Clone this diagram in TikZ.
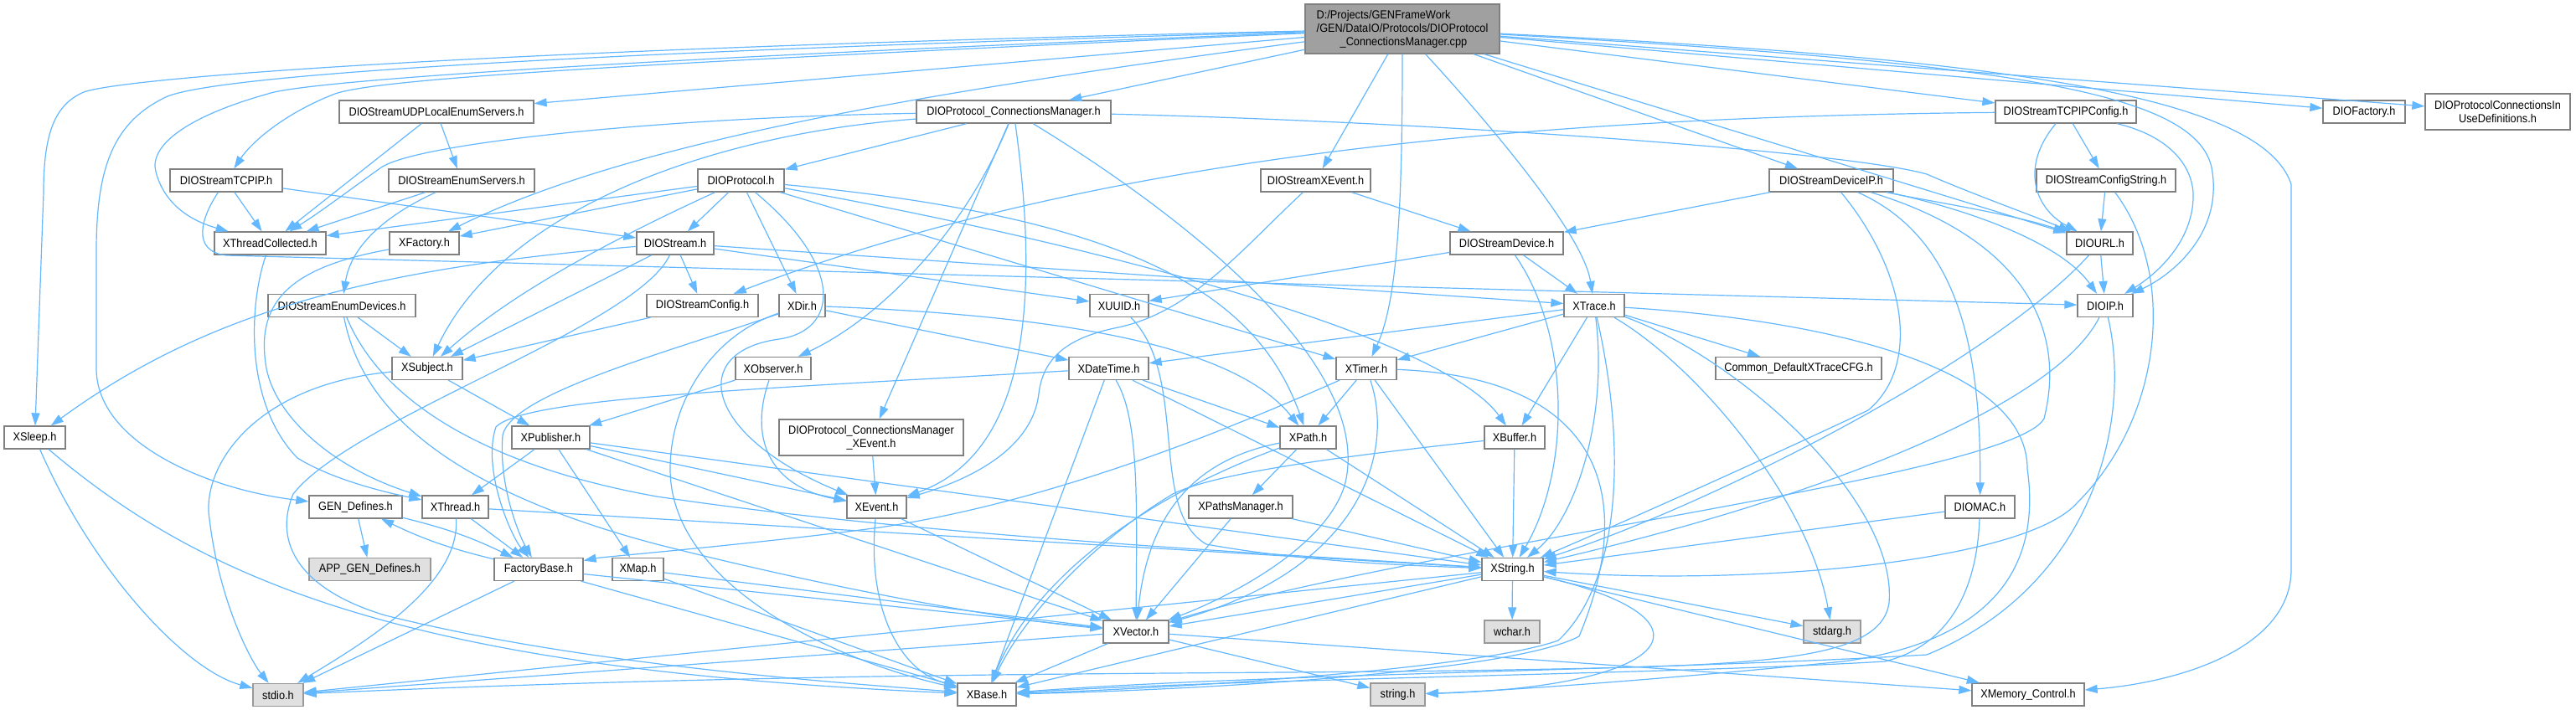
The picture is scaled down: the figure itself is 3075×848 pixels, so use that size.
\documentclass[tikz,border=0pt]{standalone}
\usepackage{fontspec}
\setmainfont{Liberation Sans}[FakeStretch=0.91]
\usetikzlibrary{arrows.meta}
\definecolor{edgec}{HTML}{63B8FF}
\definecolor{boxc}{HTML}{808080}
\definecolor{grayfill}{HTML}{E0E0E0}
\definecolor{graybord}{HTML}{999999}
\definecolor{rootfill}{HTML}{A0A0A0}
\begin{document}
\begin{tikzpicture}[x=1pt,y=-1pt,
  font=\fontsize{14}{16}\selectfont,
  nbox/.style={draw=boxc, fill=white, line width=1.3pt, inner sep=0pt, minimum height=27pt, align=center, text=black},
  nleaf/.style={nbox, draw=graybord, fill=grayfill},
  nroot/.style={nbox, fill=rootfill, align=left},
  dep/.style={draw=edgec, line width=1.2pt, -{Triangle[length=15pt,width=10pt]}}]
\useasboundingbox (0,0) rectangle (3075,848);
\fill[white] (0,0) rectangle (3075,848);

% nodes
\node[nroot, minimum width=232pt, minimum height=59pt] (root) at (1674,34.5) {D:/Projects/GENFrameWork\\/GEN/DataIO/Protocols/DIOProtocol\\\hspace*{28pt}\_ConnectionsManager.cpp};
\node[nbox, minimum width=232pt] (UDPLES) at (521,133.5) {DIOStreamUDPLocalEnumServers.h};
\node[nbox, minimum width=134pt] (TCPIP) at (270,215.5) {DIOStreamTCPIP.h};
\node[nbox, minimum width=174pt] (ES) at (551,215.5) {DIOStreamEnumServers.h};
\node[nbox, minimum width=133pt] (XTC) at (322.5,290.5) {XThreadCollected.h};
\node[nbox, minimum width=83pt] (XF) at (506.5,290.5) {XFactory.h};
\node[nbox, minimum width=176pt] (ED) at (408,365) {DIOStreamEnumDevices.h};
\node[nbox, minimum width=92pt] (DS) at (806,290.5) {DIOStream.h};
\node[nbox, minimum width=84pt] (XSub) at (510,440) {XSubject.h};
\node[nbox, minimum width=232pt] (PCM) at (1210,133.5) {DIOProtocol\_ConnectionsManager.h};
\node[nbox, minimum width=103pt] (DP) at (884.5,215.5) {DIOProtocol.h};
\node[nbox, minimum width=133pt] (DSC) at (838.5,365) {DIOStreamConfig.h};
\node[nbox, minimum width=55pt] (XDir) at (957.5,365) {XDir.h};
\node[nbox, minimum width=70pt] (XUUID) at (1336,365) {XUUID.h};
\node[nbox, minimum width=131pt] (DSXE) at (1570.5,215.5) {DIOStreamXEvent.h};
\node[nbox, minimum width=90pt] (XObs) at (923,440) {XObserver.h};
\node[nbox, minimum width=148pt] (DSDIP) at (2186,215.5) {DIOStreamDeviceIP.h};
\node[nbox, minimum width=135pt] (DSD) at (1798.5,290.5) {DIOStreamDevice.h};
\node[nbox, minimum width=72pt] (XTrace) at (1903,365) {XTrace.h};
\node[nbox, minimum width=198pt] (Common) at (2147,440) {Common\_DefaultXTraceCFG.h};
\node[nbox, minimum width=168pt] (TCPCFG) at (2466,133.5) {DIOStreamTCPIPConfig.h};
\node[nbox, minimum width=166pt] (DSCS) at (2514,215.5) {DIOStreamConfigString.h};
\node[nbox, minimum width=79pt] (DIOURL) at (2506.5,290.5) {DIOURL.h};
\node[nbox, minimum width=66pt] (DIOIP) at (2513,365) {DIOIP.h};
\node[nbox, minimum width=98pt] (DIOFactory) at (2822,133.5) {DIOFactory.h};
\node[nbox, minimum width=173pt, minimum height=43pt] (InUse) at (2981.5,133.5) {DIOProtocolConnectionsIn\\UseDefinitions.h};
\node[nbox, minimum width=73pt] (XSleep) at (41.5,522.5) {XSleep.h};
\node[nbox, minimum width=111pt] (GEN) at (424.5,605.5) {GEN\_Defines.h};
\node[nbox, minimum width=79pt] (XThread) at (543.5,605.5) {XThread.h};
\node[nleaf, minimum width=145pt] (APP) at (441.5,680) {APP\_GEN\_Defines.h};
\node[nbox, minimum width=106pt] (FB) at (643,680) {FactoryBase.h};
\node[nbox, minimum width=61pt] (XMap) at (761.5,680) {XMap.h};
\node[nleaf, minimum width=60pt] (stdio) at (332,830) {stdio.h};
\node[nbox, minimum width=93pt] (XPub) at (657.5,522.5) {XPublisher.h};
\node[nbox, minimum width=95pt] (XDT) at (1323.5,440) {XDateTime.h};
\node[nbox, minimum width=220pt, minimum height=43pt] (PCMXE) at (1040,522.5) {DIOProtocol\_ConnectionsManager\\\_XEvent.h};
\node[nbox, minimum width=71pt] (XEvent) at (1046.5,605.5) {XEvent.h};
\node[nbox, minimum width=124pt] (XPM) at (1481,605.5) {XPathsManager.h};
\node[nbox, minimum width=78pt] (XVector) at (1356,754.5) {XVector.h};
\node[nbox, minimum width=70pt] (XBase) at (1178,829.5) {XBase.h};
\node[nbox, minimum width=72pt] (XTimer) at (1631,440) {XTimer.h};
\node[nbox, minimum width=67pt] (XPath) at (1561.5,522.5) {XPath.h};
\node[nbox, minimum width=72pt] (XBuffer) at (1808,522.5) {XBuffer.h};
\node[nbox, minimum width=73pt] (XString) at (1805.5,680) {XString.h};
\node[nleaf, minimum width=66pt] (wchar) at (1805,754.5) {wchar.h};
\node[nleaf, minimum width=68pt] (stdarg) at (2187,754.5) {stdarg.h};
\node[nleaf, minimum width=65pt] (string) at (1668.5,829.5) {string.h};
\node[nbox, minimum width=83pt] (DIOMAC) at (2363.5,605.5) {DIOMAC.h};
\node[nbox, minimum width=134pt] (XMem) at (2421,829.5) {XMemory\_Control.h};

% root
\draw[dep] (root) .. controls (600,58) and (150,92) .. (100,110) .. controls (65,125) and (52,160) .. (52,230) -- (XSleep);
\draw[dep] (root) .. controls (600,65) and (260,92) .. (200,115) .. controls (135,145) and (115,200) .. (115,300) -- (115,440) .. controls (115,530) and (250,585) .. (GEN);
\draw[dep] (root) .. controls (700,72) and (360,98) .. (320,112) .. controls (220,140) and (178,175) .. (186,205) .. controls (195,240) and (222,262) .. (XTC);
\draw[dep] (root) .. controls (700,78) and (450,95) .. (400,112) .. controls (340,135) and (300,170) .. (TCPIP);
\draw[dep] (root) -- (UDPLES);
\draw[dep] (root) .. controls (1100,110) and (750,170) .. (XF);
\draw[dep] (root) -- (PCM);
\draw[dep] (root) -- (DSXE);
\draw[dep] (root) .. controls (1674,250) and (1668,360) .. (XTimer);
\draw[dep] (root) .. controls (1780,150) and (1890,280) .. (XTrace);
\draw[dep] (root) -- (DSDIP);
\draw[dep] (root) -- (TCPCFG);
\draw[dep] (root) -- (DIOURL);
\draw[dep] (root) .. controls (2400,75) and (2620,110) .. (2640,200) .. controls (2655,280) and (2590,330) .. (DIOIP);
\draw[dep] (root) -- (DIOFactory);
\draw[dep] (root) -- (InUse);
\draw[dep] (root) .. controls (2400,70) and (2700,115) .. (2735,220) -- (2735,680) .. controls (2735,775) and (2600,815) .. (XMem);

% upper left
\draw[dep] (UDPLES) -- (XTC);
\draw[dep] (UDPLES) -- (ES);
\draw[dep] (TCPIP) -- (XTC);
\draw[dep] (TCPIP) -- (DS);
\draw[dep] (TCPIP) .. controls (240,260) and (228,300) .. (270,305) -- (DIOIP);
\draw[dep] (ES) -- (XTC);
\draw[dep] (ES) .. controls (450,262) and (418,300) .. (ED);
\draw[dep] (ED) -- (XSub);
\draw[dep] (ED) .. controls (430,480) and (520,580) .. (784,650) .. controls (1000,705) and (1200,740) .. (XVector);
\draw[dep] (ED) .. controls (460,490) and (600,560) .. (784,593) .. controls (1100,640) and (1500,660) .. (XString);
\draw[dep] (XTC) .. controls (298,360) and (290,480) .. (355,547) .. controls (400,575) and (470,590) .. (XThread);
\draw[dep] (XF) .. controls (340,320) and (305,365) .. (318,440) .. controls (330,500) and (400,560) .. (XThread);

% DIOStream
\draw[dep] (DS) .. controls (450,320) and (250,370) .. (XSleep);
\draw[dep] (DS) -- (DSC);
\draw[dep] (DS) -- (XUUID);
\draw[dep] (DS) -- (XTrace);
\draw[dep] (DS) -- (XSub);
\draw[dep] (DS) .. controls (760,390) and (420,500) .. (350,590) .. controls (325,650) and (360,705) .. (460,735) .. controls (700,795) and (1000,815) .. (XBase);
\draw[dep] (DSC) -- (XSub);

% DIOProtocol
\draw[dep] (DP) -- (DS);
\draw[dep] (DP) -- (XDir);
\draw[dep] (DP) -- (XTC);
\draw[dep] (DP) -- (XF);
\draw[dep] (DP) .. controls (700,300) and (600,360) .. (XSub);
\draw[dep] (DP) .. controls (1010,320) and (1000,395) .. (930,405) .. controls (820,420) and (840,520) .. (XEvent);
\draw[dep] (DP) .. controls (1300,290) and (1720,400) .. (XBuffer);
\draw[dep] (DP) -- (XTimer);
\draw[dep] (DP) .. controls (1350,260) and (1500,350) .. (XPath);

% PCM
\draw[dep] (PCM) -- (DP);
\draw[dep] (PCM) .. controls (800,140) and (500,170) .. (455,200) .. controls (420,225) and (380,255) .. (XTC);
\draw[dep] (PCM) .. controls (850,160) and (600,250) .. (XSub);
\draw[dep] (PCM) .. controls (1150,280) and (1050,380) .. (XObs);
\draw[dep] (PCM) -- (PCMXE);
\draw[dep] (PCM) .. controls (1240,350) and (1230,540) .. (XEvent);
\draw[dep] (PCM) .. controls (1450,280) and (1640,450) .. (1605,580) .. controls (1580,660) and (1450,720) .. (XVector);
\draw[dep] (PCM) .. controls (1700,145) and (2200,180) .. (2300,208) .. controls (2355,232) and (2420,255) .. (DIOURL);

% middle left
\draw[dep] (PCMXE) -- (XEvent);
\draw[dep] (XObs) .. controls (895,520) and (915,580) .. (XEvent);
\draw[dep] (XObs) -- (XPub);
\draw[dep] (XSub) -- (XPub);
\draw[dep] (XSub) .. controls (300,460) and (240,560) .. (250,620) .. controls (262,720) and (300,790) .. (stdio);
\draw[dep] (XPub) -- (XThread);
\draw[dep] (XPub) -- (XMap);
\draw[dep] (XPub) -- (XEvent);
\draw[dep] (XPub) -- (XString);
\draw[dep] (XPub) -- (XVector);
\draw[dep] (XThread) -- (FB);
\draw[dep] (XThread) .. controls (550,700) and (430,770) .. (stdio);
\draw[dep] (XThread) -- (XString);
\draw[dep] (GEN) -- (APP);
\draw[dep] (GEN) to[bend left=6] (FB);
\draw[dep] (FB) to[bend left=6] (GEN);
\draw[dep] (FB) -- (stdio);
\draw[dep] (FB) -- (XVector);
\draw[dep] (FB) -- (XBase);
\draw[dep] (XMap) -- (XVector);
\draw[dep] (XMap) -- (XBase);
\draw[dep] (XEvent) -- (XVector);
\draw[dep] (XEvent) .. controls (1035,720) and (1070,800) .. (XBase);
\draw[dep] (XSleep) .. controls (110,680) and (220,800) .. (stdio);
\draw[dep] (XSleep) .. controls (250,700) and (500,800) .. (XBase);

% XDir, XDateTime
\draw[dep] (XDir) -- (XDT);
\draw[dep] (XDir) .. controls (1300,378) and (1480,420) .. (XPath);
\draw[dep] (XDir) .. controls (800,420) and (610,470) .. (600,520) .. controls (595,580) and (620,640) .. (FB);
\draw[dep] (XDir) .. controls (850,400) and (800,480) .. (800,560) .. controls (800,700) and (1000,790) .. (XBase);
\draw[dep] (XDT) -- (XBase);
\draw[dep] (XDT) .. controls (1360,500) and (1357,600) .. (XVector);
\draw[dep] (XDT) -- (XPath);
\draw[dep] (XDT) -- (XString);
\draw[dep] (XDT) .. controls (900,465) and (625,475) .. (592,510) .. controls (575,560) and (610,640) .. (FB);

% XTimer, XPath
\draw[dep] (XTimer) -- (XPath);
\draw[dep] (XTimer) -- (XString);
\draw[dep] (XTimer) .. controls (1665,540) and (1625,680) .. (XVector);
\draw[dep] (XTimer) .. controls (1900,450) and (1960,580) .. (1885,760) .. controls (1800,805) and (1400,825) .. (XBase);
\draw[dep] (XTimer) .. controls (1450,520) and (1250,600) .. (1050,630) .. controls (900,650) and (720,665) .. (FB);
\draw[dep] (XPath) -- (XPM);
\draw[dep] (XPath) -- (XString);
\draw[dep] (XPath) .. controls (1420,550) and (1370,620) .. (XVector);
\draw[dep] (XPath) .. controls (1350,600) and (1230,700) .. (XBase);
\draw[dep] (XPM) -- (XVector);
\draw[dep] (XPM) -- (XString);
\draw[dep] (XBuffer) -- (XString);
\draw[dep] (XBuffer) .. controls (1600,545) and (1450,565) .. (1400,590) .. controls (1300,650) and (1220,740) .. (XBase);
\draw[dep] (XUUID) .. controls (1420,450) and (1370,610) .. (1440,650) .. controls (1560,672) and (1700,676) .. (XString);

% XString, XVector
\draw[dep] (XString) -- (XVector);
\draw[dep] (XString) -- (wchar);
\draw[dep] (XString) -- (stdarg);
\draw[dep] (XString) .. controls (2060,740) and (2000,820) .. (string);
\draw[dep] (XString) -- (XBase);
\draw[dep] (XString) -- (stdio);
\draw[dep] (XString) -- (XMem);
\draw[dep] (XVector) -- (XBase);
\draw[dep] (XVector) -- (stdio);
\draw[dep] (XVector) -- (string);
\draw[dep] (XVector) -- (XMem);

% right part
\draw[dep] (DSXE) -- (DSD);
\draw[dep] (DSXE) .. controls (1480,300) and (1420,375) .. (1330,392) .. controls (1270,405) and (1245,430) .. (1240,470) .. controls (1232,540) and (1150,575) .. (XEvent);
\draw[dep] (DSD) -- (XTrace);
\draw[dep] (DSD) -- (XUUID);
\draw[dep] (DSD) .. controls (1875,400) and (1875,560) .. (XString);
\draw[dep] (DSDIP) -- (DSD);
\draw[dep] (DSDIP) .. controls (2300,240) and (2400,255) .. (DIOURL);
\draw[dep] (DSDIP) .. controls (2350,250) and (2460,290) .. (DIOIP);
\draw[dep] (DSDIP) .. controls (2330,280) and (2365,400) .. (DIOMAC);
\draw[dep] (DSDIP) .. controls (2280,330) and (2290,440) .. (2230,490) .. controls (2060,570) and (1900,640) .. (XString);
\draw[dep] (DSDIP) .. controls (2400,280) and (2470,380) .. (2440,500) .. controls (2400,570) and (1700,650) .. (XVector);
\draw[dep] (TCPCFG) -- (DSCS);
\draw[dep] (TCPCFG) .. controls (2410,200) and (2430,250) .. (DIOURL);
\draw[dep] (TCPCFG) .. controls (2580,160) and (2615,190) .. (2618,230) .. controls (2620,290) and (2570,330) .. (DIOIP);
\draw[dep] (TCPCFG) .. controls (1800,140) and (1300,190) .. (DSC);
\draw[dep] (DSCS) -- (DIOURL);
\draw[dep] (DSCS) .. controls (2600,330) and (2580,500) .. (2480,600) .. controls (2420,670) and (2100,700) .. (XString);
\draw[dep] (DIOURL) -- (DIOIP);
\draw[dep] (DIOURL) .. controls (2380,430) and (2050,600) .. (XString);
\draw[dep] (DIOIP) .. controls (2450,490) and (2150,600) .. (XString);
\draw[dep] (DIOIP) .. controls (2545,500) and (2500,700) .. (2300,782) .. controls (2000,800) and (1500,805) .. (XBase);
\draw[dep] (DIOMAC) -- (XString);
\draw[dep] (DIOMAC) .. controls (2360,700) and (2330,770) .. (2250,790) .. controls (2000,805) and (1500,810) .. (XBase);

% XTrace
\draw[dep] (XTrace) -- (XDT);
\draw[dep] (XTrace) -- (XTimer);
\draw[dep] (XTrace) -- (XBuffer);
\draw[dep] (XTrace) .. controls (1920,500) and (1880,620) .. (XString);
\draw[dep] (XTrace) .. controls (2030,440) and (2160,600) .. (stdarg);
\draw[dep] (XTrace) -- (Common);
\draw[dep] (XTrace) .. controls (1945,550) and (1930,700) .. (1860,765) .. controls (1760,800) and (1400,822) .. (XBase);
\draw[dep] (XTrace) .. controls (2150,380) and (2420,430) .. (2420,560) .. controls (2440,700) and (2350,770) .. (2200,790) .. controls (2000,810) and (1800,825) .. (string);
\draw[dep] (XTrace) .. controls (2080,430) and (2265,600) .. (2255,720) .. controls (2245,790) and (2100,795) .. (1800,800) .. controls (1500,806) and (1000,800) .. (stdio);

\end{tikzpicture}
\end{document}
